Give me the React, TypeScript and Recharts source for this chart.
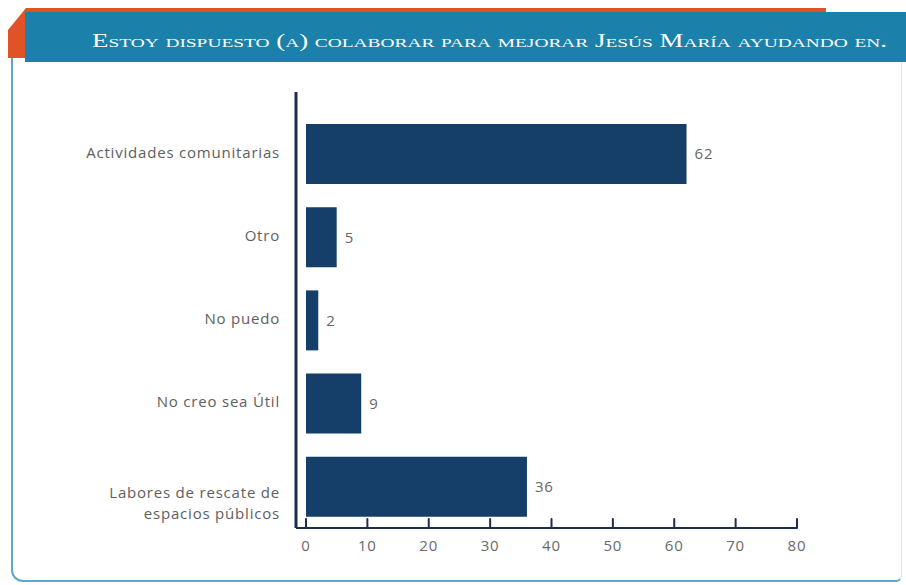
import { BarChart, Bar, XAxis, YAxis, LabelList } from 'recharts'

const categories = [
  'Actividades comunitarias',
  'Otro',
  'No puedo',
  'No creo sea Útil',
  'Labores de rescate de espacios públicos',
]
const values = [62, 5, 2, 9, 36]
const xTicks = [0, 10, 20, 30, 40, 50, 60, 70, 80]
const title = 'Estoy dispuesto (a) colaborar para mejorar Jesús María ayudando en.'

// the long label is split in two lines like in the original
const labelLines: Record<string, string[]> = {
  'Labores de rescate de espacios públicos': ['Labores de rescate de', 'espacios públicos'],
}

const data = categories.map((name, i) => ({ name, value: values[i] }))

const BAR_COLOR = '#153f68'
const AXIS_COLOR = '#1c2d4e'
const FONT = '"Open Sans", "Noto Sans", sans-serif'
const TEXT_SIZE = 15
const SPACING = 0.8

const CategoryTick = (props: any) => {
  const { x, y, payload } = props
  const lines = labelLines[payload.value]
  if (lines) {
    return (
      <text x={x} y={y} textAnchor="end" fill="#5e5e5e" fontSize={TEXT_SIZE} letterSpacing={SPACING} fontFamily={FONT}>
        {lines.map((line, i) => (
          <tspan key={line} x={x} dy={i === 0 ? 12 : 21}>
            {line}
          </tspan>
        ))}
      </text>
    )
  }
  return (
    <text x={x} y={y} dy={4} textAnchor="end" fill="#5e5e5e" fontSize={TEXT_SIZE} letterSpacing={SPACING} fontFamily={FONT}>
      {payload.value}
    </text>
  )
}

const ValueTick = (props: any) => {
  const { x, y, payload } = props
  return (
    <g>
      <line x1={x} x2={x} y1={y} y2={y - 9} stroke={AXIS_COLOR} strokeWidth={2} strokeLinecap="round" />
      <text x={x} y={y + 23} textAnchor="middle" fill="#6a6a6a" fontSize={TEXT_SIZE} letterSpacing={SPACING} fontFamily={FONT}>
        {payload.value}
      </text>
    </g>
  )
}

const Header = () => (
  <svg width={906} height={70} style={{ position: 'absolute', left: 0, top: 0 }}>
    <polygon points="26,8 826,8 826,12 26,12" fill="#e05228" />
    <polygon points="26,8 8,30 8,58 26,58" fill="#e05228" />
    <rect x={25} y={12} width={881} height={50} fill="#1b80aa" />
    <text
      x={92}
      y={47}
      textLength={795}
      lengthAdjust="spacingAndGlyphs"
      fill="#ffffff"
      fontSize={18}
      fontFamily='"Liberation Serif", serif'
      style={{ fontVariant: 'small-caps' }}
    >
      {title}
    </text>
  </svg>
)

export default function App() {
  return (
    <div style={{ position: 'absolute', left: 0, top: 0, width: 906, height: 585, background: '#fff', overflow: 'hidden' }}>
      <div
        style={{
          position: 'absolute',
          left: 11,
          top: 50,
          width: 888,
          height: 530,
          border: '2px solid #5ea8c6',
          borderTop: 'none',
          borderRight: '1px solid #d6e9f1',
          borderRadius: '0 0 6px 12px',
        }}
      />
      <Header />
      <div style={{ position: 'absolute', left: 0, top: 0 }}>
        <BarChart
          width={906}
          height={585}
          data={data}
          layout="vertical"
          margin={{ top: 92, right: 109, bottom: 27, left: 0 }}
        >
          <XAxis
            type="number"
            domain={[0, 80]}
            ticks={xTicks}
            interval={0}
            padding={{ left: 10, right: 0 }}
            height={30}
            tickLine={false}
            tickSize={0}
            tickMargin={0}
            axisLine={{ stroke: AXIS_COLOR, strokeWidth: 2 }}
            tick={<ValueTick />}
          />
          <YAxis
            type="category"
            dataKey="name"
            width={296}
            padding={{ top: 20, bottom: 0 }}
            tickLine={false}
            tickSize={0}
            tickMargin={16}
            axisLine={{ stroke: AXIS_COLOR, strokeWidth: 3 }}
            tick={<CategoryTick />}
            interval={0}
          />
          <Bar dataKey="value" fill={BAR_COLOR} barSize={60} isAnimationActive={false}>
            <LabelList
              dataKey="value"
              position="right"
              offset={8}
              fill="#666"
              fontSize={TEXT_SIZE}
              letterSpacing={SPACING}
              fontFamily={FONT}
            />
          </Bar>
        </BarChart>
      </div>
    </div>
  )
}
